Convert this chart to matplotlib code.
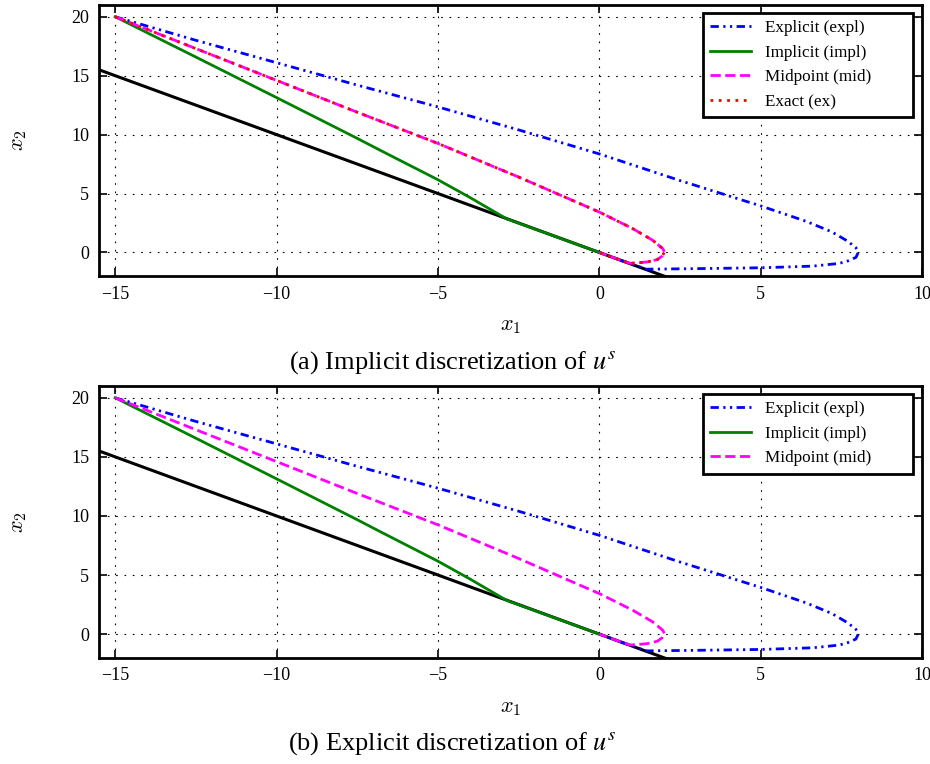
import numpy as np
import matplotlib
matplotlib.use('Agg')
import matplotlib.pyplot as plt

plt.rcParams['font.family'] = ['Liberation Serif', 'DejaVu Serif']
plt.rcParams['mathtext.fontset'] = 'cm'

# trajectories (x1, x2)
expl_x1 = [-15.0, -12.5, -10.0, -7.5, -5.0, -2.5, 0.0, 2.5, 5.0, 6.4, 7.2, 7.7, 7.95, 8.03,
           7.95, 7.7, 7.43, 6.61, 5.0, 3.1, 1.45, 0.7, 0.0]
expl_x2 = [20.0, 18.0, 16.1, 14.2, 12.35, 10.4, 8.36, 6.1, 3.95, 2.65, 1.75, 0.95, 0.4, 0.05,
           -0.42, -0.72, -0.93, -1.16, -1.30, -1.37, -1.42, -0.7, 0.0]

impl_x1 = [-15.0, -12.5, -10.0, -7.5, -6.81, -5.0, -4.0, -2.87, -1.45, 0.0]
impl_x2 = [20.0, 16.58, 13.14, 9.68, 8.7, 6.17, 4.65, 2.85, 1.44, 0.0]

mid_x1 = [-15.0, -12.5, -10.0, -7.5, -5.0, -2.5, 0.0, 1.03, 1.65, 1.96, 2.02,
          1.95, 1.8, 1.5, 1.2, 0.95, 0.5, 0.0]
mid_x2 = [20.0, 17.3, 14.6, 11.9, 9.25, 6.4, 3.43, 2.03, 1.04, 0.34, 0.05,
          -0.3, -0.6, -0.8, -0.88, -0.92, -0.5, 0.0]

# exact solution coincides with the midpoint rule
ex_x1 = list(mid_x1)
ex_x2 = list(mid_x2)

# constraint line x2 = -x1
bound_x1 = [-16.0, 3.0]
bound_x2 = [16.0, -3.0]

captions = ['(a) Implicit discretization of $u^s$', '(b) Explicit discretization of $u^s$']

fig = plt.figure(figsize=(9.3, 7.64), dpi=100)

ax_rects = [[0.1065, 0.6387, 0.885, 0.3548], [0.1065, 0.1391, 0.885, 0.3557]]
cap_y = [0.525, 0.027]
lab_y = [0.572, 0.073]

for k in range(2):
    ax = fig.add_axes(ax_rects[k])
    ax.plot(bound_x1, bound_x2, color='black', lw=2.2, zorder=2)
    ax.plot(expl_x1, expl_x2, color='blue', lw=2.0, ls=(0, (3.0, 1.6, 0.8, 1.6, 0.8, 1.6)),
            label='Explicit (expl)', zorder=3)
    ax.plot(impl_x1, impl_x2, color='green', lw=2.0, label='Implicit (impl)', zorder=3)
    ax.plot(mid_x1, mid_x2, color='magenta', lw=2.0, ls='--', label='Midpoint (mid)', zorder=3)
    if k == 0:
        ax.plot(ex_x1, ex_x2, color='red', lw=2.0, ls=(0, (1, 2)), label='Exact (ex)', zorder=4)

    ax.set_xlim(-15.5, 10)
    ax.set_ylim(-2, 21)
    ax.set_xticks([-15, -10, -5, 0, 5, 10])
    ax.set_yticks([0, 5, 10, 15, 20])
    ax.grid(True, color='black', lw=0.8, ls=(0, (1.5, 6)))
    ax.tick_params(direction='in', length=6, width=1.2, top=True, right=True, labelsize=13, pad=7)
    for sp in ax.spines.values():
        sp.set_linewidth(2.0)

    leg = ax.legend(loc='upper right', bbox_to_anchor=(0.734, 0.0, 0.255, 0.970), mode='expand',
                    fontsize=12.3, frameon=True, fancybox=False, edgecolor='black', framealpha=1,
                    handlelength=2.4, handletextpad=0.8, borderaxespad=0.0, labelspacing=0.5,
                    borderpad=0.42)
    leg.get_frame().set_linewidth(2.0)

    fig.text(0.549, lab_y[k], '$x_1$', fontsize=16, ha='center', va='center')
    fig.text(0.021, ax_rects[k][1] + ax_rects[k][3] / 2, '$x_2$', fontsize=16,
             ha='center', va='center', rotation=90)
    fig.text(0.4866, cap_y[k], captions[k], fontsize=19, ha='center', va='center',
             math_fontfamily='stix')

plt.savefig('out.png', dpi=100)
